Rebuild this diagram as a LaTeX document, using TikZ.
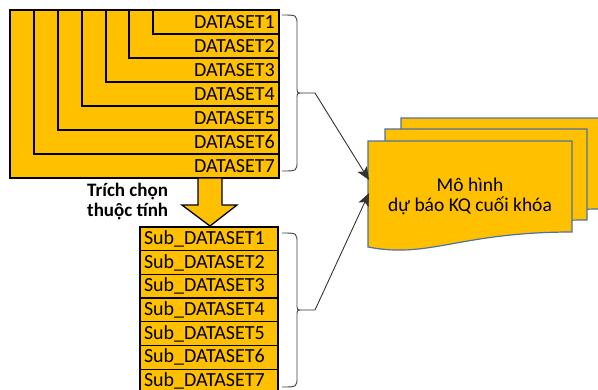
\documentclass[tikz,border=0pt]{standalone}
\usepackage{fontspec}
\setmainfont{Carlito}
\usetikzlibrary{positioning,arrows.meta}
\definecolor{dsgold}{HTML}{FFC000}
\definecolor{docedge}{HTML}{4A74A0}
\tikzset{
  dsbox/.style={fill=dsgold,draw=black,line width=1.3pt},
  dslabel/.style={anchor=east,inner sep=1pt,font=\fontsize{20}{20}\selectfont},
  subbox/.style={fill=dsgold,draw=black,line width=1.3pt,outer sep=0pt,
    minimum height=23.7pt,text width=130pt,inner xsep=4pt,inner ysep=0pt,
    align=left,font=\fontsize{20}{20}\selectfont},
  docsheet/.style={fill=dsgold,draw=docedge,line width=1.2pt},
  bracket/.style={draw=black!75,line width=0.9pt},
  link/.style={draw=black!80,line width=0.9pt,-{Stealth[length=13pt,width=11pt,inset=3pt]}},
}
% document sheet: x, y, width
\newcommand{\docsheet}[3]{%
  \draw[docsheet] (#1,#2) -- (#1+#3,#2) -- (#1+#3,#2+91)
    .. controls (#1+0.45*#3,#2+91) and (#1+0.3*#3,#2+118) .. (#1,#2+106) -- cycle;}
\begin{document}
\begin{tikzpicture}[x=1pt,y=-1pt]
  \useasboundingbox (0,0) rectangle (598,389);
  % nested datasets, largest first
  \draw[dsbox] (10,10) rectangle (279,178);
  \draw[dsbox] (34,10) rectangle (279,154);
  \draw[dsbox] (58,10) rectangle (279,130);
  \draw[dsbox] (82,10) rectangle (279,106);
  \draw[dsbox] (106,10) rectangle (279,82);
  \draw[dsbox] (129,10) rectangle (279,58);
  \draw[dsbox] (153,10) rectangle (279,34);
  \draw[line width=2pt] (10,10) rectangle (279,178);
  \node[dslabel] (ds1) at (276,22) {DATASET1};
  \node[dslabel] (ds2) at (276,46) {DATASET2};
  \node[dslabel] (ds3) at (276,70) {DATASET3};
  \node[dslabel] (ds4) at (276,94) {DATASET4};
  \node[dslabel] (ds5) at (276,118) {DATASET5};
  \node[dslabel] (ds6) at (276,142) {DATASET6};
  \node[dslabel] (ds7) at (276,166) {DATASET7};
  % feature selection
  \draw[fill=dsgold,draw=black,line width=1.3pt] (198,178) -- (222,178) -- (222,205)
    -- (237,205) -- (210,226) -- (182,205) -- (198,205) -- cycle;
  \node[font=\bfseries\fontsize{19}{20}\selectfont,align=left,anchor=west,inner sep=0pt]
    (select) at (87,202) {Trích chọn\\thuộc tính};
  % sub datasets
  \node[subbox,anchor=north west] (sub1) at (140,227) {Sub\_DATASET1};
  \node[subbox,below=0pt of sub1] (sub2) {Sub\_DATASET2};
  \node[subbox,below=0pt of sub2] (sub3) {Sub\_DATASET3};
  \node[subbox,below=0pt of sub3] (sub4) {Sub\_DATASET4};
  \node[subbox,below=0pt of sub4] (sub5) {Sub\_DATASET5};
  \node[subbox,below=0pt of sub5] (sub6) {Sub\_DATASET6};
  \node[subbox,below=0pt of sub6] (sub7) {Sub\_DATASET7};
  % model sheets, back to front
  \docsheet{401}{118}{202}
  \docsheet{385}{129}{202}
  \docsheet{368}{141}{204}
  \node[font=\fontsize{19.5}{20}\selectfont,align=center] (model) at (470,196)
    {Mô hình\\dự báo KQ cuối khóa};
  \coordinate (in1) at (369,180);
  \coordinate (in2) at (369,193);
  % brackets
  \draw[bracket] (282,15) .. controls (297,15) .. (297,25) -- (297,86)
    .. controls (297,93) .. (301,93) .. controls (297,93) .. (297,100)
    -- (297,161) .. controls (297,171) .. (282,171);
  \draw[bracket] (282,233) .. controls (297,233) .. (297,243) -- (297,303)
    .. controls (297,310) .. (301,310) .. controls (297,310) .. (297,317)
    -- (297,377) .. controls (297,387) .. (282,387);
  \coordinate (b1) at (301,93);
  \coordinate (k1) at (315,93);
  \coordinate (b2) at (301,310);
  \coordinate (k2) at (315,310);
  % links to model
  \draw[link] (b1) -- (k1) -- (in1);
  \draw[link] (b2) -- (k2) -- (in2);
\end{tikzpicture}
\end{document}
